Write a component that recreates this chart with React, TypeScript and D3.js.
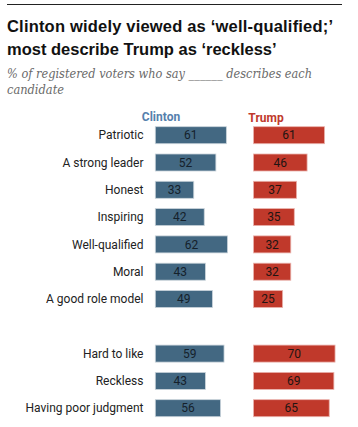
import React from "react";
import * as d3 from "d3";

const categories = [
  "Patriotic",
  "A strong leader",
  "Honest",
  "Inspiring",
  "Well-qualified",
  "Moral",
  "A good role model",
  "",
  "Hard to like",
  "Reckless",
  "Having poor judgment",
];
const clintonValues = [61, 52, 33, 42, 62, 43, 49, null, 59, 43, 56];
const trumpValues = [61, 46, 37, 35, 32, 32, 25, null, 70, 69, 65];
const seriesNames = ["Clinton", "Trump"];

const W = 358;
const H = 427;

export default function App() {
  const slots = categories.map((_, i) => String(i));
  const y = d3.scaleBand<string>().domain(slots).range([126.7, 416.7]).paddingInner(0.377).paddingOuter(0);
  const xC = d3.scaleLinear().domain([0, 100]).range([155.3, 271.8]);
  const xT = d3.scaleLinear().domain([0, 100]).range([253.5, 370]);
  const bw = y.bandwidth();
  const font = "Roboto, 'Liberation Sans', sans-serif";

  return (
    <svg
      width={W}
      height={H}
      style={{ position: "absolute", left: 0, top: 0, background: "#fff" }}
      fontFamily={font}
    >
      <line x1={7} x2={342} y1={4.5} y2={4.5} stroke="#222" strokeWidth={1.2} />
      <text x={7} y={32} fontSize={16.5} fontWeight="bold" fill="#111" fontFamily="'Liberation Sans', Arial, sans-serif" textLength={326} lengthAdjust="spacing">
        Clinton widely viewed as ‘well-qualified;’
      </text>
      <text x={7} y={55} fontSize={16.5} fontWeight="bold" fill="#111" fontFamily="'Liberation Sans', Arial, sans-serif">
        most describe Trump as ‘reckless’
      </text>
      <text x={7} y={77.7} fontSize={12} fontStyle="italic" fill="#6a6a6a" fontFamily="'DejaVu Serif', serif" textLength={305} lengthAdjust="spacingAndGlyphs">
        % of registered voters who say ______ describes each
      </text>
      <text x={7} y={94.3} fontSize={12} fontStyle="italic" fill="#6a6a6a" fontFamily="'DejaVu Serif', serif" textLength={57} lengthAdjust="spacingAndGlyphs">
        candidate
      </text>

      <text x={161} y={120.5} textAnchor="middle" fontSize={12} fontWeight="bold" fill="#5580ad">
        {seriesNames[0]}
      </text>
      <text x={266} y={122} textAnchor="middle" fontSize={12} fontWeight="bold" fill="#c0392b">
        {seriesNames[1]}
      </text>

      {categories.map((c, i) => {
        const cv = clintonValues[i];
        const tv = trumpValues[i];
        if (cv == null || tv == null) return null;
        const y0 = y(String(i))!;
        const cy = y0 + bw / 2;
        return (
          <g key={i}>
            <text x={143.5} y={cy} dy="0.35em" textAnchor="end" fontSize={12} fill="#222">
              {c}
            </text>
            <rect
              x={xC(0)}
              y={y0}
              width={xC(cv) - xC(0)}
              height={bw}
              fill="#436882"
              stroke="#c9d3da"
              strokeWidth={0.8}
            />
            <text x={(xC(0) + xC(cv)) / 2} y={cy} dy="0.35em" textAnchor="middle" fontSize={12} fill="#15212b">
              {cv}
            </text>
            <rect
              x={xT(0)}
              y={y0}
              width={xT(tv) - xT(0)}
              height={bw}
              fill="#c0392b"
              stroke="#eab3ad"
              strokeWidth={0.8}
            />
            <text x={(xT(0) + xT(tv)) / 2} y={cy} dy="0.35em" textAnchor="middle" fontSize={12} fill="#221412">
              {tv}
            </text>
          </g>
        );
      })}
    </svg>
  );
}
